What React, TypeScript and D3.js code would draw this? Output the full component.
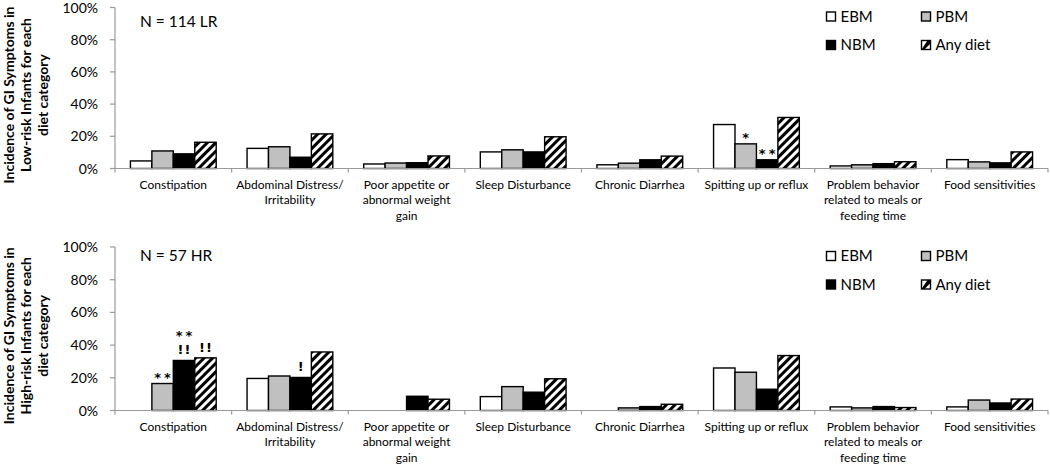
import React from "react";
import * as d3 from "d3";

// ---------- data ----------
const categoryLabels: string[][] = [
  ["Constipation"],
  ["Abdominal Distress/", "Irritability"],
  ["Poor appetite or", "abnormal weight", "gain"],
  ["Sleep Disturbance"],
  ["Chronic Diarrhea"],
  ["Spitting up or reflux"],
  ["Problem behavior", "related to meals or", "feeding time"],
  ["Food sensitivities"],
];
const categories = categoryLabels.map((l) => l.join(" "));
const seriesNames = ["EBM", "PBM", "NBM", "Any diet"];
const yTicks = [0, 20, 40, 60, 80, 100];

// Low-risk (N = 114)
const lrEBM = [4.7, 12.5, 2.8, 10.3, 2.3, 27.3, 1.6, 5.5];
const lrPBM = [10.9, 13.5, 3.4, 11.6, 3.3, 15.3, 2.3, 4.1];
const lrNBM = [9.1, 7.0, 3.6, 10.3, 5.4, 5.4, 3.0, 3.5];
const lrAny = [16.3, 21.5, 7.8, 19.7, 7.7, 31.7, 4.2, 10.3];

// High-risk (N = 57)
const hrEBM = [0, 19.6, 0, 8.5, 0, 26.0, 2.2, 2.2];
const hrPBM = [16.5, 21.1, 0, 14.6, 1.6, 23.4, 1.6, 6.4];
const hrNBM = [30.6, 20.2, 8.7, 11.2, 2.4, 13.0, 2.4, 4.6];
const hrAny = [32.2, 35.8, 6.9, 19.4, 3.8, 33.6, 1.8, 7.0];

// significance marks: [category index, series index, lines top->bottom]
const lrMarks: [number, number, string[]][] = [
  [5, 1, ["*"]],
  [5, 2, ["**"]],
];
const hrMarks: [number, number, string[]][] = [
  [0, 1, ["**"]],
  [0, 2, ["**", "!!"]],
  [0, 3, ["!!"]],
  [1, 2, ["!"]],
];

// ---------- layout ----------
const W = 1050;
const H = 466;
const X0 = 115;
const X1 = 1048;
const FONT = "Lato, 'Open Sans', sans-serif";
const AXIS = "#9a9a9a";
const fills = ["#ffffff", "#c0c0c0", "#000000", "url(#hatch)"];

const panels = [
  {
    top: 7.5,
    bottom: 168.5,
    values: [lrEBM, lrPBM, lrNBM, lrAny],
    marks: lrMarks,
    nLabel: "N = 114 LR",
    nDy: 13.5,
    titleLines: ["Incidence of GI Symptoms in", "Low-risk Infants for each", "diet category"],
  },
  {
    top: 247,
    bottom: 410.5,
    values: [hrEBM, hrPBM, hrNBM, hrAny],
    marks: hrMarks,
    nLabel: "N = 57 HR",
    nDy: 8.5,
    titleLines: ["Incidence of GI Symptoms in", "High-risk Infants for each", "diet category"],
  },
];

const x = d3.scaleBand<string>().domain(categories).range([X0, X1]).padding(0);
const xs = d3
  .scaleBand<string>()
  .domain(seriesNames)
  .range([0, x.bandwidth()])
  .paddingInner(0)
  .paddingOuter(0.72);

function LegendSwatch({ i, x0, y0 }: { i: number; x0: number; y0: number }) {
  const s = 9;
  if (i === 3) {
    return (
      <g>
        <rect x={x0} y={y0} width={s} height={s} fill="#fff" />
        <polygon
          points={`${x0},${y0 + s} ${x0 + s - 3},${y0} ${x0 + s},${y0} ${x0 + s},${y0 + 3} ${x0 + 3},${y0 + s}`}
          fill="#000"
        />
        <rect x={x0} y={y0} width={s} height={s} fill="none" stroke="#000" strokeWidth={1.4} />
      </g>
    );
  }
  return <rect x={x0} y={y0} width={s} height={s} fill={fills[i]} stroke="#000" strokeWidth={1.4} />;
}

function Panel({ p }: { p: (typeof panels)[number] }) {
  const y = d3.scaleLinear().domain([0, 100]).range([p.bottom, p.top]);
  const midY = (p.top + p.bottom) / 2 + 7;
  const legendCols = [826.5, 921.5];
  const legendRows = [p.top + 9, p.top + 37.5];
  return (
    <g>
      {/* y axis title */}
      {p.titleLines.map((t, k) => (
        <text
          key={k}
          transform={`translate(${13.5 + k * 17},${midY}) rotate(-90)`}
          textAnchor="middle"
          fontFamily={FONT}
          fontWeight="bold"
          fontSize={14}
          fill="#000"
        >
          {t}
        </text>
      ))}
      {/* y axis */}
      <line x1={X0} x2={X0} y1={y(100)} y2={y(0)} stroke={AXIS} strokeWidth={1.2} />
      {yTicks.map((t) => (
        <g key={t}>
          <line x1={X0 - 5} x2={X0} y1={y(t)} y2={y(t)} stroke={AXIS} strokeWidth={1.2} />
          <text
            x={X0 - 17}
            y={y(t)}
            dy="0.36em"
            textAnchor="end"
            fontFamily={FONT}
            fontSize={14}
            fill="#000"
          >
            {t}%
          </text>
        </g>
      ))}
      {/* bars */}
      {categories.map((c, ci) =>
        seriesNames.map((s, si) => {
          const v = p.values[si][ci];
          if (!v) return null;
          const bx = (x(c) as number) + (xs(s) as number);
          return (
            <rect
              key={c + s}
              x={bx}
              y={y(v)}
              width={xs.bandwidth()}
              height={y(0) - y(v)}
              fill={fills[si]}
              stroke="#000"
              strokeWidth={1.4}
            />
          );
        })
      )}
      {/* x axis */}
      <line x1={X0} x2={X1} y1={y(0)} y2={y(0)} stroke={AXIS} strokeWidth={1.2} />
      {categories.map((c, ci) => (
        <line
          key={"t" + ci}
          x1={(x(c) as number) + x.bandwidth()}
          x2={(x(c) as number) + x.bandwidth()}
          y1={y(0)}
          y2={y(0) + 4}
          stroke={AXIS}
          strokeWidth={1.2}
        />
      ))}
      <line x1={X0} x2={X0} y1={y(0)} y2={y(0) + 4} stroke={AXIS} strokeWidth={1.2} />
      {categoryLabels.map((lines, ci) => (
        <text
          key={"c" + ci}
          x={(x(categories[ci]) as number) + x.bandwidth() / 2}
          y={y(0) + 20}
          textAnchor="middle"
          fontFamily={FONT}
          fontSize={12}
          fill="#000"
        >
          {lines.map((l, k) => (
            <tspan key={k} x={(x(categories[ci]) as number) + x.bandwidth() / 2} dy={k === 0 ? 0 : 15.8}>
              {l}
            </tspan>
          ))}
        </text>
      ))}
      {/* significance marks (one text element per bar, lines as tspans) */}
      {p.marks.map(([ci, si, lines], k) => {
        const cx = (x(categories[ci]) as number) + (xs(seriesNames[si]) as number) + xs.bandwidth() / 2;
        const base = y(p.values[si][ci]);
        const last = lines[lines.length - 1];
        const lastBase = last.includes("*") ? base - 2 : base - 6;
        const firstBase = lastBase - (lines.length - 1) * 14;
        return (
          <text
            key={"m" + k}
            y={firstBase}
            textAnchor="middle"
            fontFamily="'DejaVu Sans', sans-serif"
            fontWeight="bold"
            fontSize={13}
            fill="#000"
          >
            {lines.map((l, j) => (
              <tspan
                key={j}
                x={cx + (l.includes("*") ? 1.5 : 0.5)}
                dy={j === 0 ? 0 : l.includes("*") ? 14 : 14}
                letterSpacing={l.includes("*") ? 3 : 1}
              >
                {l}
              </tspan>
            ))}
          </text>
        );
      })}
      {/* N label */}
      <text x={140} y={p.top + p.nDy} dy="0.36em" fontFamily={FONT} fontSize={15.5} fill="#000">
        {p.nLabel}
      </text>
      {/* legend */}
      {seriesNames.map((s, si) => {
        const lx = legendCols[si % 2];
        const ly = legendRows[Math.floor(si / 2)];
        return (
          <g key={"l" + si}>
            <LegendSwatch i={si} x0={lx} y0={ly - 4.5} />
            <text x={lx + 14} y={ly} dy="0.36em" fontFamily={FONT} fontSize={15} fill="#000">
              {s}
            </text>
          </g>
        );
      })}
    </g>
  );
}

export default function App() {
  return (
    <svg
      width={W}
      height={H}
      viewBox={`0 0 ${W} ${H}`}
      style={{ position: "absolute", left: 0, top: 0, background: "#fff" }}
    >
      <defs>
        <pattern id="hatch" patternUnits="userSpaceOnUse" width={6} height={6} patternTransform="rotate(45)">
          <rect x={0} y={0} width={6} height={6} fill="#fff" />
          <rect x={0} y={0} width={3} height={6} fill="#000" />
        </pattern>
      </defs>
      <rect x={0} y={0} width={W} height={H} fill="#fff" />
      {panels.map((p, i) => (
        <Panel key={i} p={p} />
      ))}
    </svg>
  );
}
